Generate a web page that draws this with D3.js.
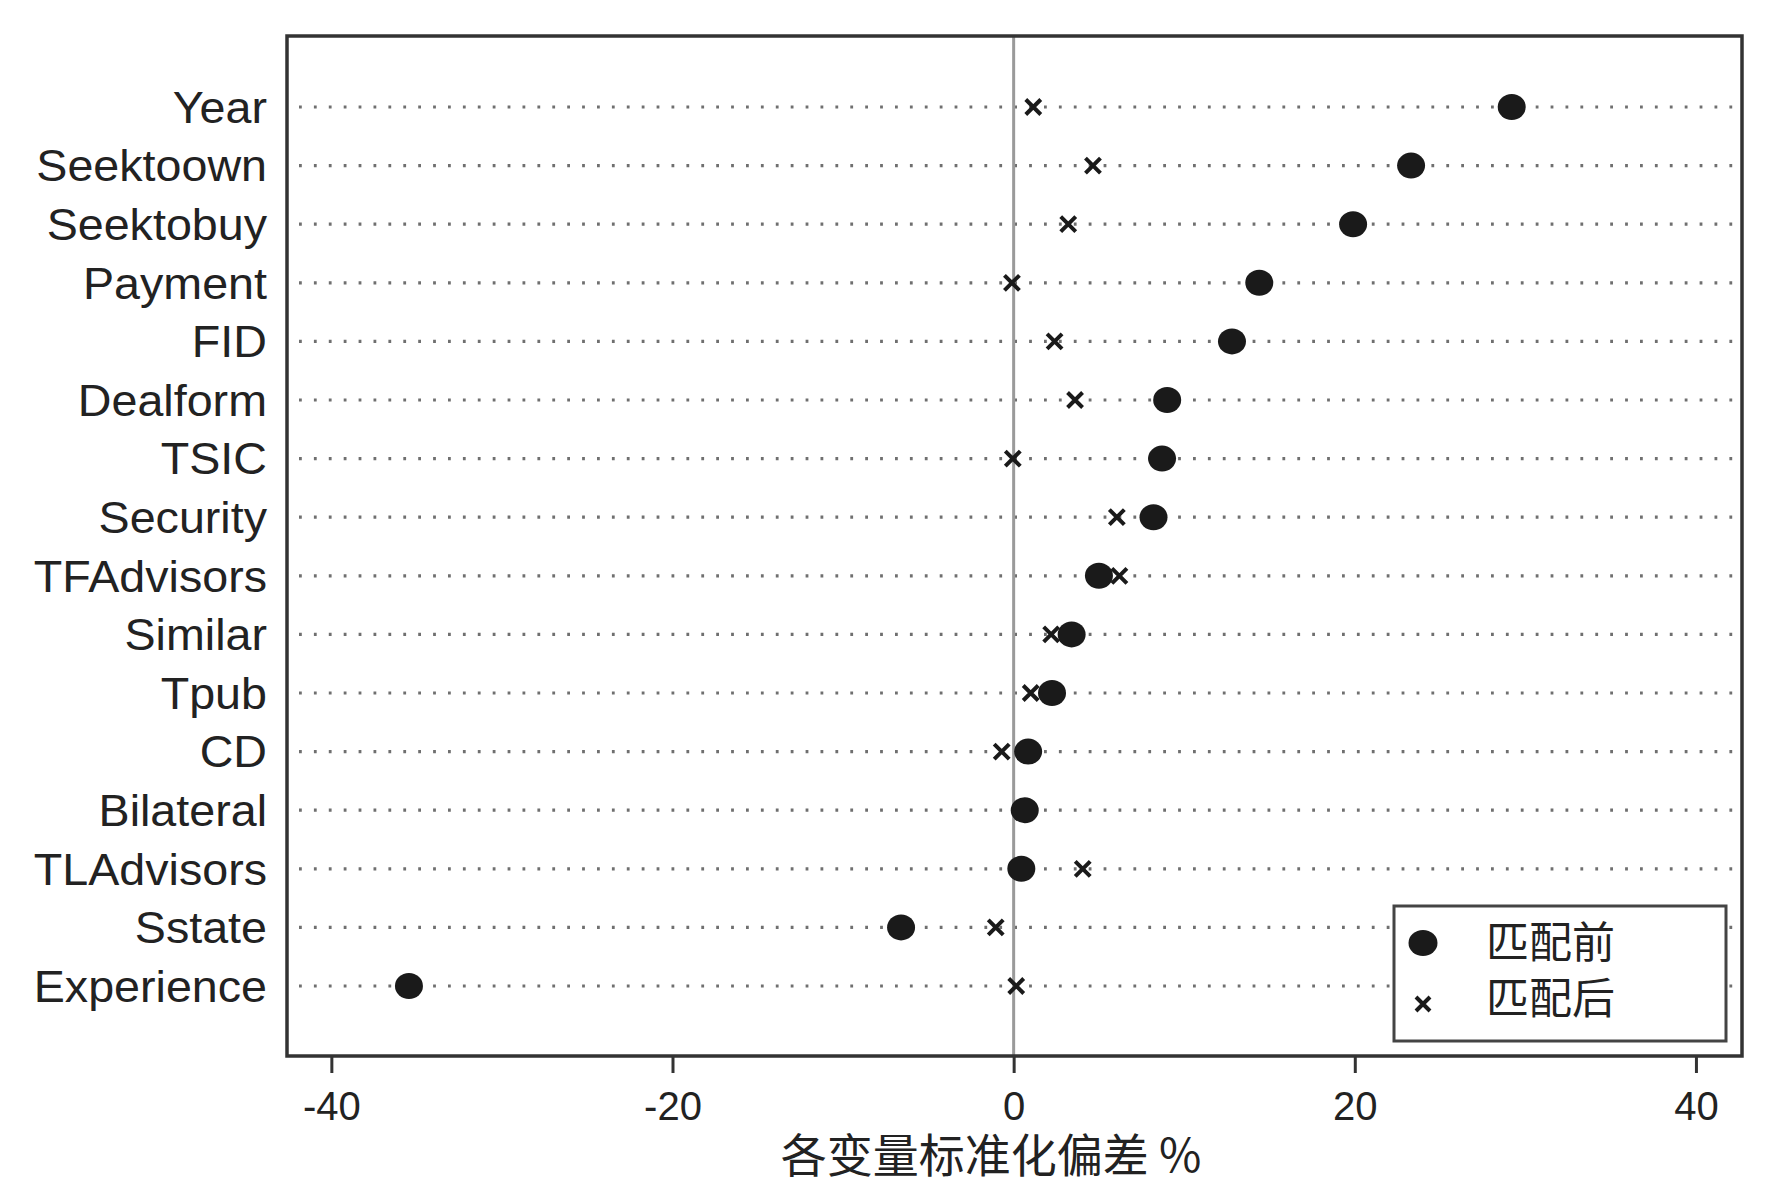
<!DOCTYPE html>
<html>
<head>
  <meta charset="utf-8">
  <title>Standardized bias dot plot</title>
  <script src="https://d3js.org/d3.v7.min.js"></script>
  <style>
    body { margin: 0; background: #fff; }
    text { font-family: "Liberation Sans", Arial, "Noto Sans CJK SC", sans-serif; fill: #222; }
    .dots line { stroke: #6f6f6f; stroke-width: 3.2; stroke-dasharray: 2.8,12.1; }
  </style>
</head>
<body>
  <script>
    // variables, top to bottom
    var variables = ["Year", "Seektoown", "Seektobuy", "Payment", "FID", "Dealform", "TSIC",
        "Security", "TFAdvisors", "Similar", "Tpub", "CD", "Bilateral", "TLAdvisors",
        "Sstate", "Experience"];
    // standardized bias (%) before matching
    var before = [29.2, 23.3, 19.9, 14.4, 12.8, 9.0, 8.7, 8.2, 5.0, 3.4, 2.25, 0.85, 0.65, 0.45, -6.6, -35.45];
    // standardized bias (%) after matching
    var after = [1.15, 4.65, 3.2, -0.1, 2.4, 3.6, -0.05, 6.05, 6.2, 2.2, 1.0, -0.7, 0.6, 4.05, -1.05, 0.15];
    var xTicks = [-40, -20, 0, 20, 40];
    var legendLabels = ["匹配前", "匹配后"];
    var xTitle = "各变量标准化偏差 %";

    var W = 1777, H = 1199;
    var frame = {left: 287, top: 36, right: 1742, bottom: 1056};

    var svg = d3.select("body").append("svg")
        .attr("width", W)
        .attr("height", H);

    var x = d3.scaleLinear()
        .domain([-42.6, 42.7])
        .range([frame.left, frame.right]);

    var y = d3.scalePoint()
        .domain(variables)
        .range([107, 986]);

    // dotted guide lines
    svg.append("g")
        .attr("class", "dots")
        .selectAll("line")
        .data(variables)
        .enter().append("line")
        .attr("x1", frame.left + 12)
        .attr("x2", frame.right - 6)
        .attr("y1", function(d) { return y(d); })
        .attr("y2", function(d) { return y(d); });

    // zero reference line
    svg.append("line")
        .attr("x1", x(0)).attr("x2", x(0))
        .attr("y1", frame.top).attr("y2", frame.bottom)
        .attr("stroke", "#9a9a9a")
        .attr("stroke-width", 3);

    // variable labels (slightly wide, like the original)
    svg.append("g")
        .selectAll("text")
        .data(variables)
        .enter().append("text")
        .attr("transform", function(d) { return "translate(267," + y(d) + ") scale(1.06,1)"; })
        .attr("dy", "0.36em")
        .attr("text-anchor", "end")
        .attr("font-size", 44)
        .text(function(d) { return d; });

    function cross(g, cx, cy, s) {
        g.append("path")
            .attr("d", "M" + (cx - s) + "," + (cy - s) + "L" + (cx + s) + "," + (cy + s) +
                       "M" + (cx - s) + "," + (cy + s) + "L" + (cx + s) + "," + (cy - s))
            .attr("stroke", "#1a1a1a")
            .attr("stroke-width", 4)
            .attr("fill", "none");
    }

    // after-matching markers (x)
    var gx = svg.append("g");
    after.forEach(function(v, i) {
        cross(gx, x(v), y(variables[i]), 7.5);
    });

    // before-matching markers (filled dots)
    svg.append("g")
        .selectAll("ellipse")
        .data(before)
        .enter().append("ellipse")
        .attr("cx", function(d) { return x(d); })
        .attr("cy", function(d, i) { return y(variables[i]); })
        .attr("rx", 14)
        .attr("ry", 13)
        .attr("fill", "#1a1a1a");

    // frame
    svg.append("rect")
        .attr("x", frame.left).attr("y", frame.top)
        .attr("width", frame.right - frame.left)
        .attr("height", frame.bottom - frame.top)
        .attr("fill", "none")
        .attr("stroke", "#333")
        .attr("stroke-width", 3.5);

    // x axis
    var xAxis = svg.append("g")
        .attr("transform", "translate(0," + frame.bottom + ")")
        .call(d3.axisBottom(x).tickValues(xTicks).tickSize(17).tickPadding(19)
            .tickFormat(function(d) { return String(d); }));
    xAxis.select(".domain").remove();
    xAxis.selectAll(".tick line").attr("stroke", "#333").attr("stroke-width", 3);
    xAxis.selectAll(".tick text")
        .attr("font-size", 40)
        .attr("font-family", "Liberation Sans, Arial, sans-serif")
        .attr("fill", "#333");

    svg.append("text")
        .attr("x", 991)
        .attr("y", 1155)
        .attr("dy", "0.36em")
        .attr("text-anchor", "middle")
        .attr("font-size", 46)
        .style("font-family", "'Noto Sans CJK SC', sans-serif")
        .text(xTitle);

    // legend
    var lg = svg.append("g");
    lg.append("rect")
        .attr("x", 1394).attr("y", 906)
        .attr("width", 332).attr("height", 135)
        .attr("fill", "#fff")
        .attr("stroke", "#444")
        .attr("stroke-width", 3);
    lg.append("ellipse")
        .attr("cx", 1423).attr("cy", 943)
        .attr("rx", 14.5).attr("ry", 13)
        .attr("fill", "#1a1a1a");
    cross(lg, 1423, 1004, 7);
    lg.selectAll("text.lab")
        .data(legendLabels)
        .enter().append("text")
        .attr("class", "lab")
        .attr("x", 1486)
        .attr("y", function(d, i) { return 943 + i * 56; })
        .attr("dy", "0.36em")
        .attr("font-size", 43)
        .style("font-family", "'Noto Sans CJK SC', sans-serif")
        .text(function(d) { return d; });
  </script>
</body>
</html>
